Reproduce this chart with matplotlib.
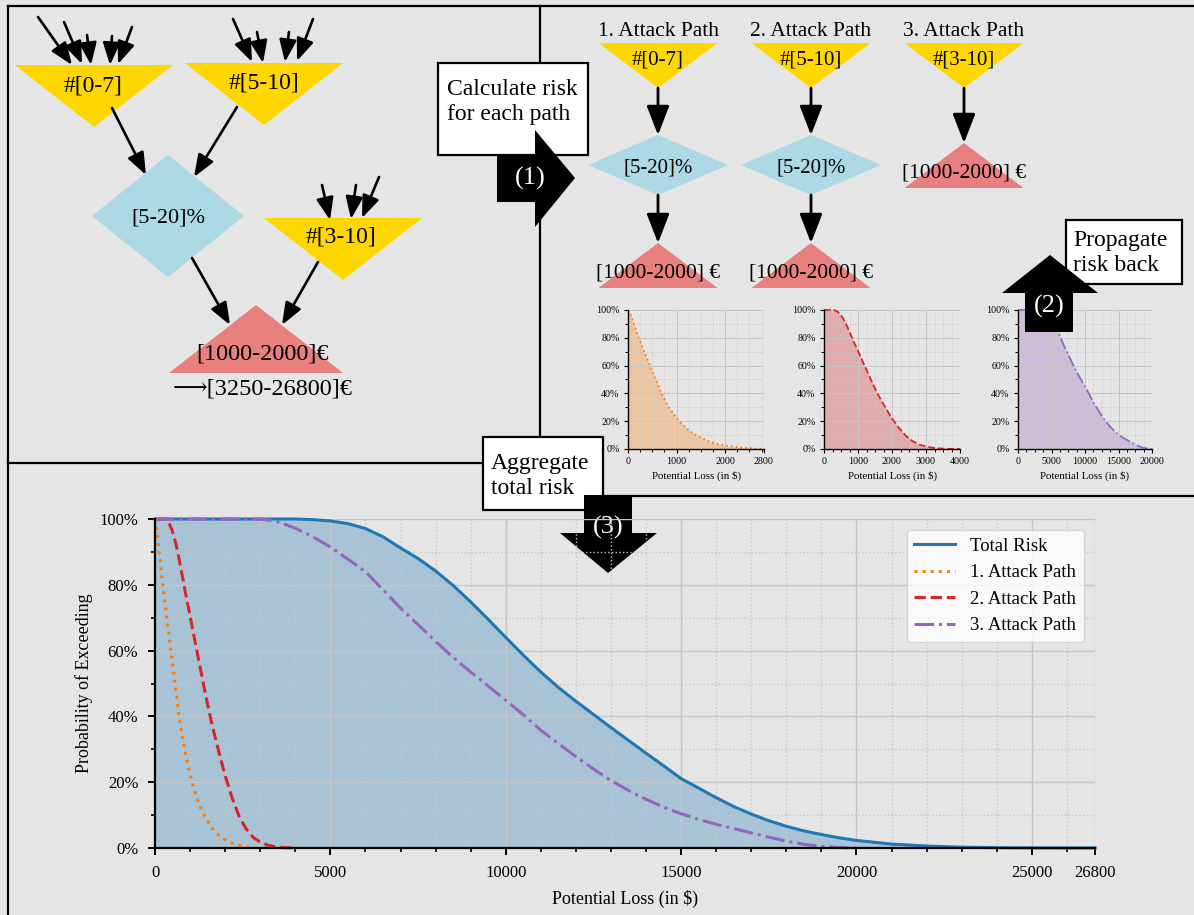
import matplotlib
matplotlib.use('Agg')
import matplotlib.pyplot as plt
from matplotlib.patches import Polygon, Rectangle, FancyArrowPatch
from matplotlib.ticker import MultipleLocator, FixedLocator, PercentFormatter

plt.rcParams['font.family'] = ['Liberation Serif', 'DejaVu Serif', 'DejaVu Sans']

BG = '#e5e5e5'
GRID = '#c6c6c6'
W, H = 1194, 915

# ---- data (loss in $, probability of exceeding in %) ----
loss_total = [0, 2000, 4000, 4500, 5000, 5500, 6000, 6500, 7000, 7500, 8000, 8500, 9000,
              9500, 10000, 10500, 11000, 11500, 12000, 12500, 13000, 13500, 14000, 14500,
              15000, 15500, 16000, 16500, 17000, 17500, 18000, 18500, 19000, 19500, 20000,
              21000, 22000, 23000, 24000, 25000, 26800]
risk_total = [100, 100, 100, 99.8, 99.4, 98.6, 97.1, 94.6, 91.2, 88.0, 84.2, 79.8, 74.8,
              69.5, 64.0, 58.6, 53.5, 48.8, 44.6, 40.6, 36.6, 32.7, 28.8, 25.0,
              21.1, 18.2, 15.3, 12.6, 10.3, 8.3, 6.6, 5.2, 4.1, 3.1, 2.3,
              1.2, 0.6, 0.25, 0.1, 0.03, 0]

loss_p1 = [0, 50, 100, 150, 200, 300, 400, 500, 600, 700, 800, 900, 1000, 1100, 1200,
           1300, 1400, 1500, 1600, 1700, 1800, 2000, 2200, 2400, 2600, 2800]
risk_p1 = [100, 97, 92, 87, 82, 73, 64.5, 56, 47.5, 39, 32.5, 27, 22.5, 18.3, 15,
           12.2, 10, 8.2, 6.5, 5, 4, 2.5, 1.5, 0.8, 0.3, 0]

loss_p2 = [0, 300, 400, 500, 600, 700, 800, 900, 1000, 1100, 1200, 1300, 1400, 1500,
           1600, 1700, 1800, 1900, 2000, 2200, 2400, 2600, 2800, 3000, 3200, 3400,
           3600, 3800, 4000]
risk_p2 = [100, 100, 98.8, 96.2, 92.3, 87.2, 81.5, 75.8, 70.5, 65, 59.6, 54.2, 48.8, 43.6,
           38.8, 34.3, 30.1, 26, 22, 15.2, 9.6, 5.8, 3.2, 1.8, 0.9, 0.4,
           0.15, 0.05, 0]

loss_p3 = [0, 3000, 3500, 4000, 4500, 5000, 5500, 6000, 6500, 7000, 7500, 8000, 8500,
           9000, 9500, 10000, 10500, 11000, 11500, 12000, 12500, 13000, 13500, 14000,
           14500, 15000, 15500, 16000, 16500, 17000, 17500, 18000, 18500, 19000, 19500,
           20000]
risk_p3 = [100, 100, 99.2, 97.2, 94.6, 91.5, 87.8, 84.0, 78.5, 72.9, 67.9, 62.8, 57.9,
           53.5, 49.2, 44.9, 40.5, 35.8, 31.7, 27.8, 24.0, 20.5, 17.5, 14.8,
           12.4, 10.4, 8.7, 7.2, 5.9, 4.6, 3.3, 2.1, 1.1, 0.5, 0.15,
           0]

path_names = ['1. Attack Path', '2. Attack Path', '3. Attack Path']
path_colors = ['tab:orange', 'tab:red', 'tab:purple']
path_styles = [':', '--', '-.']
path_xmax = [2800, 4000, 20000]
path_xticks = [[0, 1000, 2000, 2800], [0, 1000, 2000, 3000, 4000],
               [0, 5000, 10000, 15000, 20000]]
path_minor = [250, 250, 1250]
main_xticks = [0, 5000, 10000, 15000, 20000, 25000, 26800]
pct_ticks = [0, 20, 40, 60, 80, 100]

freq_labels = ['#[0-7]', '#[5-10]', '#[3-10]']
vuln_label = '[5-20]%'
impact_label = '[1000-2000]'
total_label = '\u27f6[3250-26800]\u20ac'

GOLD = '#ffd700'
LBLUE = '#add8e6'
LRED = '#e88080'


def frac(l, t, r, b):
    return [l / W, 1 - b / H, (r - l) / W, (b - t) / H]


def style_axes(ax, xmax, xticks, minor, fs, big):
    ax.set_facecolor('none')
    ax.set_xlim(0, xmax)
    ax.set_ylim(0, 100)
    ax.xaxis.set_major_locator(FixedLocator(xticks))
    ax.xaxis.set_minor_locator(MultipleLocator(minor))
    ax.yaxis.set_major_locator(FixedLocator(pct_ticks))
    ax.yaxis.set_minor_locator(MultipleLocator(10))
    ax.yaxis.set_major_formatter(PercentFormatter(100, decimals=0))
    ax.grid(which='major', color=GRID, lw=1.0 if big else 0.7)
    ax.grid(which='minor', color=GRID, ls=':', lw=1.0 if big else 0.7)
    for s in ['top', 'right']:
        ax.spines[s].set_visible(False)
    for s in ['left', 'bottom']:
        ax.spines[s].set_linewidth(1.6 if big else 1.0)
    ax.tick_params(which='major', length=5 if big else 3, width=1.4 if big else 0.8,
                   labelsize=fs, pad=7 if big else 3)
    ax.tick_params(which='minor', length=3 if big else 2, width=1.2 if big else 0.7)


fig = plt.figure(figsize=(W / 100, H / 100), dpi=100, facecolor=BG)

# ---- small per-path charts ----
small_pos = [(628, 310, 764, 449), (824, 310, 960, 449), (1018, 310, 1152, 449)]
path_loss = [loss_p1, loss_p2, loss_p3]
path_risk = [risk_p1, risk_p2, risk_p3]
for i in range(3):
    ax = fig.add_axes(frac(*small_pos[i]))
    ax.set_zorder(1)
    ax.fill_between(path_loss[i], path_risk[i], color=path_colors[i], alpha=0.3, lw=0)
    ax.plot(path_loss[i], path_risk[i], color=path_colors[i], ls=path_styles[i], lw=1.3,
            clip_on=False)
    style_axes(ax, path_xmax[i], path_xticks[i], path_minor[i], 7.2, False)
    ax.set_xlabel('Potential Loss (in $)', fontsize=7.8, labelpad=3)

# ---- diagram overlay ----
ax0 = fig.add_axes([0, 0, 1, 1])
ax0.set_zorder(2)
ax0.set_xlim(0, W)
ax0.set_ylim(H, 0)
ax0.axis('off')
ax0.patch.set_visible(False)

# panel borders
for xs, ys in [([8, W], [6, 6]), ([8, 8], [6, H]), ([540, 540], [6, 496]),
               ([8, 540], [463, 463]), ([540, W], [496, 496])]:
    ax0.plot(xs, ys, color='k', lw=1.6, zorder=1, solid_capstyle='projecting')


def arrow(p0, p1, scale=15, lw=1.9):
    ax0.add_patch(FancyArrowPatch(p0, p1, arrowstyle='-|>,head_length=0.9,head_width=0.35',
                                  mutation_scale=scale, lw=lw, color='k',
                                  shrinkA=0, shrinkB=0, zorder=3))


def down_tri(cx, top, half, apex, color):
    ax0.add_patch(Polygon([(cx - half, top), (cx + half, top), (cx, apex)],
                          closed=True, fc=color, ec='none', zorder=2))


def up_tri(cx, base, half, apex, color):
    ax0.add_patch(Polygon([(cx - half, base), (cx + half, base), (cx, apex)],
                          closed=True, fc=color, ec='none', zorder=2))


def diamond(cx, cy, hw, hh):
    ax0.add_patch(Polygon([(cx - hw, cy), (cx, cy - hh), (cx + hw, cy), (cx, cy + hh)],
                          closed=True, fc=LBLUE, ec='none', zorder=2))


def label(x, y, s, fs=16, **kw):
    ax0.text(x, y, s, fontsize=fs, ha='center', va='center', zorder=6, **kw)


# left panel: attack tree
down_tri(94, 65, 79, 127, GOLD)
down_tri(264, 63, 79, 125, GOLD)
down_tri(343, 218, 79, 280, GOLD)
diamond(168, 216, 76, 61)
up_tri(256, 373, 87, 305, LRED)
label(93, 86, freq_labels[0], fs=17)
label(264, 83, freq_labels[1], fs=17)
label(341, 237, freq_labels[2], fs=17)
label(168, 218, vuln_label, fs=16)
label(263, 354, impact_label + '\u20ac', fs=17.5)
label(263, 389, total_label, fs=17.5)

for p0, p1 in [((38, 17), (72, 65)), ((64, 22), (82, 64)), ((87, 35), (91, 65)),
               ((112, 36), (110, 65)), ((132, 27), (118, 64)),
               ((233, 19), (252, 62)), ((257, 32), (263, 63)), ((289, 32), (285, 62)),
               ((313, 19), (297, 61)),
               ((322, 185), (330, 220)), ((356, 185), (351, 219)), ((379, 177), (362, 218)),
               ((112, 108), (146, 175)), ((237, 107), (194, 177)),
               ((192, 258), (230, 325)), ((318, 262), (282, 325))]:
    arrow(p0, p1)

# right panel: attack paths
cols = [658, 811, 964]
for i, cx in enumerate(cols):
    label(cx, 31, path_names[i], fs=15.5)
    down_tri(cx, 43, 59.5, 88, GOLD)
    label(cx, 60, freq_labels[i], fs=15)
    if i < 2:
        arrow((cx, 88), (cx, 135), scale=20, lw=2)
        diamond(cx, 165, 70, 30)
        label(cx, 168, vuln_label, fs=15)
        arrow((cx, 195), (cx, 243), scale=20, lw=2)
        up_tri(cx, 288, 59.5, 243, LRED)
        label(cx, 273, impact_label + ' \u20ac', fs=15.5)
    else:
        arrow((cx, 88), (cx, 143), scale=20, lw=2)
        up_tri(cx, 188, 59.5, 143, LRED)
        label(cx, 173, impact_label + ' \u20ac', fs=15.5)

# note boxes
for (x0, y0, x1, y1), txt, tx, ty in [((438, 63, 588, 155), 'Calculate risk\nfor each path', 447, 102),
                                      ((1066, 220, 1182, 284), 'Propagate\nrisk back', 1073, 253),
                                      ((483, 437, 603, 510), 'Aggregate\ntotal risk', 491, 476)]:
    ax0.add_patch(Rectangle((x0, y0), x1 - x0, y1 - y0, fc='white', ec='k', lw=1.6, zorder=3))
    ax0.text(tx, ty, txt, fontsize=17, ha='left', va='center', linespacing=1.25, zorder=6)

# big step arrows
big = [[(497, 155), (535, 155), (535, 130), (575, 178), (535, 227), (535, 202), (497, 202)],
       [(1025, 332), (1025, 293), (1002, 293), (1050, 255), (1098, 293), (1073, 293), (1073, 332)],
       [(584, 495), (632, 495), (632, 533), (657, 533), (608, 573), (560, 533), (584, 533)]]
for pts in big:
    ax0.add_patch(Polygon(pts, closed=True, fc='k', ec='none', zorder=4))
label(530, 178, '(1)', fs=19, color='white')
label(1049, 306, '(2)', fs=19, color='white')
label(608, 527, '(3)', fs=19, color='white')

# ---- main aggregated chart ----
ax = fig.add_axes(frac(155, 519, 1095, 848))
ax.set_zorder(3)
ax.fill_between(loss_total, risk_total, color='tab:blue', alpha=0.3, lw=0)
ax.plot(loss_total, risk_total, color='tab:blue', lw=2.2, label='Total Risk', clip_on=False)
for i in range(3):
    ax.plot(path_loss[i], path_risk[i], color=path_colors[i], ls=path_styles[i], lw=2.2,
            label=path_names[i], clip_on=False)
style_axes(ax, 26800, main_xticks, 1000, 12, True)
ax.set_xlabel('Potential Loss (in $)', fontsize=13, labelpad=7)
ax.set_ylabel('Probability of Exceeding', fontsize=13, labelpad=5)
leg = ax.legend(loc='upper right', fontsize=13.5, handlelength=2.2, framealpha=0.8,
                facecolor='white', edgecolor='#d0d0d0', borderaxespad=0.6)

fig.savefig('out.png', dpi=100, facecolor=BG)
